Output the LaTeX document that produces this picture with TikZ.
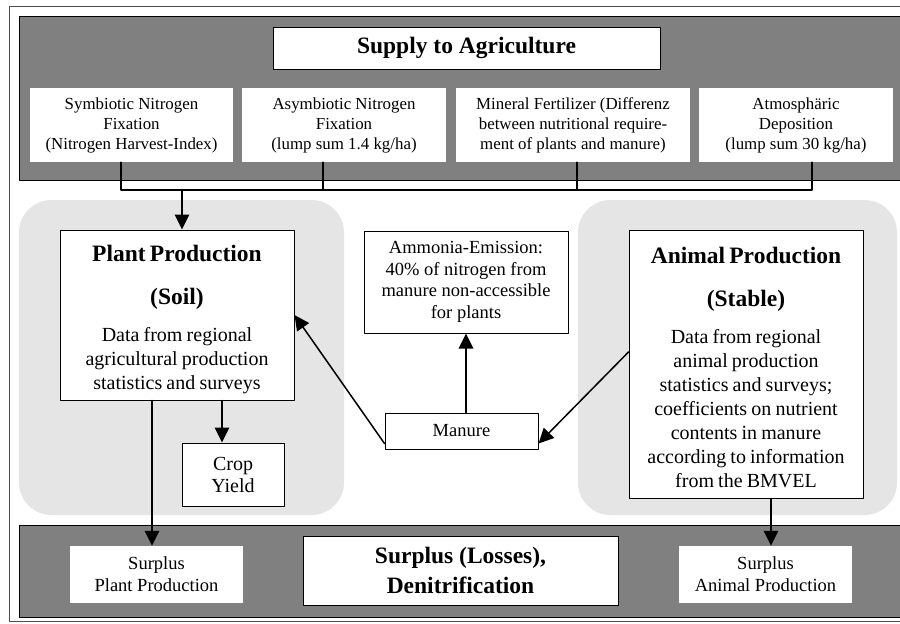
\documentclass[tikz,border=0pt]{standalone}
\usepackage{fontspec}
\setmainfont{Liberation Serif}
\usetikzlibrary{arrows.meta}
\newcommand{\headfont}{\fontsize{18.8}{34.4}\selectfont\bfseries}
\newcommand{\bodyfont}{\normalfont\fontsize{16}{19.2}\selectfont}
\newcommand{\subfont}{\fontsize{13.5}{16}\selectfont}
\newcommand{\notefont}{\fontsize{14.8}{17.2}\selectfont}
\tikzset{
	band/.style={draw=black,line width=0.8pt,fill=black!50},
	region/.style={fill=black!10,rounded corners=26pt},
	wbox/.style={fill=white,inner sep=0pt,align=center},
	bbox/.style={wbox,draw=black,line width=0.8pt},
	conn/.style={line width=1.2pt}
}
\begin{document}
\begin{tikzpicture}[line cap=round,line join=round,>={Triangle[length=12pt,width=11.5pt]},x=0.8pt,y=-0.8pt]
		\clip (0,0) rectangle (900,623);
		\fill[white] (0,0) rectangle (900,623);
		\draw [line width=0.8pt,color=black!70] (9,6) rectangle (930,621);
		\draw [band] (19,16) rectangle (930,180);
		\draw [band] (19,525) rectangle (930,617);
		\fill [region] (19,200) rectangle (344,515);
		\fill [region] (578,200) rectangle (897,515);
		\node[bbox,minimum width=309.6pt,minimum height=33.6pt,font=\headfont] (supply) at (466.5,48) {Supply to Agriculture};
		\node[wbox,minimum width=162.4pt,minimum height=59.2pt,font=\subfont] (sym) at (131.5,125) {Symbiotic Nitrogen\\Fixation\\(Nitrogen Harvest-Index)};
		\node[wbox,minimum width=163.2pt,minimum height=59.2pt,font=\subfont] (asym) at (344,125) {Asymbiotic Nitrogen\\Fixation\\(lump sum 1.4 kg/ha)};
		\node[wbox,minimum width=187.2pt,minimum height=59.2pt,font=\subfont] (mineral) at (573,125) {Mineral Fertilizer (Differenz\\between nutritional require-\\ment of plants and manure)};
		\node[wbox,minimum width=155.2pt,minimum height=59.2pt,font=\subfont] (depo) at (796,125) {Atmosphäric\\Deposition\\(lump sum 30 kg/ha)};
		\node[bbox,minimum width=187.2pt,minimum height=136pt,text width=180pt] (plant) at (177,315) {\headfont\rule{0pt}{21pt}Plant Production\par (Soil)\par\vspace{10.4pt}\bodyfont Data from regional\\agricultural production\\statistics and surveys\par};
		\node[bbox,minimum width=163.2pt,minimum height=81.6pt,font=\notefont] (ammonia) at (466,282) {Ammonia-Emission:\\40\% of nitrogen from\\manure non-accessible\\for plants};
		\node[bbox,minimum width=122.4pt,minimum height=28.8pt,font=\notefont] (manure) at (461.5,431) {Manure};
		\node[bbox,minimum width=187.2pt,minimum height=214.4pt,text width=180pt] (animal) at (746,364) {\headfont\rule{0pt}{18pt}Animal Production\par (Stable)\par\vspace{10.4pt}\bodyfont Data from regional\\animal production\\statistics and surveys;\\coefficients on nutrient\\contents in manure\\according to information\\from the BMVEL\par};
		\node[bbox,minimum width=81.6pt,minimum height=50.4pt,font={\fontsize{16}{17.6}\selectfont}] (crop) at (233,474.5) {Crop\\Yield};
		\node[bbox,minimum width=252pt,minimum height=55.2pt,font={\fontsize{18.8}{24}\selectfont\bfseries}] (losses) at (460.5,570.5) {Surplus (Losses),\\Denitrification};
		\node[wbox,minimum width=138.4pt,minimum height=45.6pt,font={\fontsize{14.8}{17.6}\selectfont}] (surplant) at (156.5,574.5) {Surplus\\Plant Production};
		\node[wbox,minimum width=138.4pt,minimum height=45.6pt,font={\fontsize{14.8}{17.6}\selectfont}] (suranimal) at (765.5,574.5) {Surplus\\Animal Production};
		\coordinate (b1) at (121,190);
		\coordinate (b2) at (323,190);
		\coordinate (b3) at (577,190);
		\coordinate (b4) at (812,190);
		\coordinate (bj) at (182,190);
		\coordinate (py) at ([xshift=-20pt]plant.south);
		\coordinate (cy) at ([xshift=36pt]plant.south);
		\coordinate (ay) at ([xshift=20pt]animal.south);
		\draw [conn] (b1 |- sym.south) -- (b1) -- (b4) -- (b4 |- depo.south);
		\draw [conn] (b2 |- asym.south) -- (b2);
		\draw [conn] (b3 |- mineral.south) -- (b3);
		\draw [conn,->] (bj) -- (bj |- plant.north);
		\draw [conn,->] (py) -- (py |- surplant.north);
		\draw [conn,->] (cy) -- (cy |- crop.north);
		\draw [conn,->] (ay) -- (ay |- suranimal.north);
		\draw [conn,->] ([yshift=4.8pt]manure.south west) -- (plant.east);
		\draw [conn,->] ([yshift=9.6pt]animal.west) -- ([yshift=4.8pt]manure.south east);
		\draw [conn,->] (manure.north -| ammonia.south) -- (ammonia.south);
	\end{tikzpicture}
\end{document}
